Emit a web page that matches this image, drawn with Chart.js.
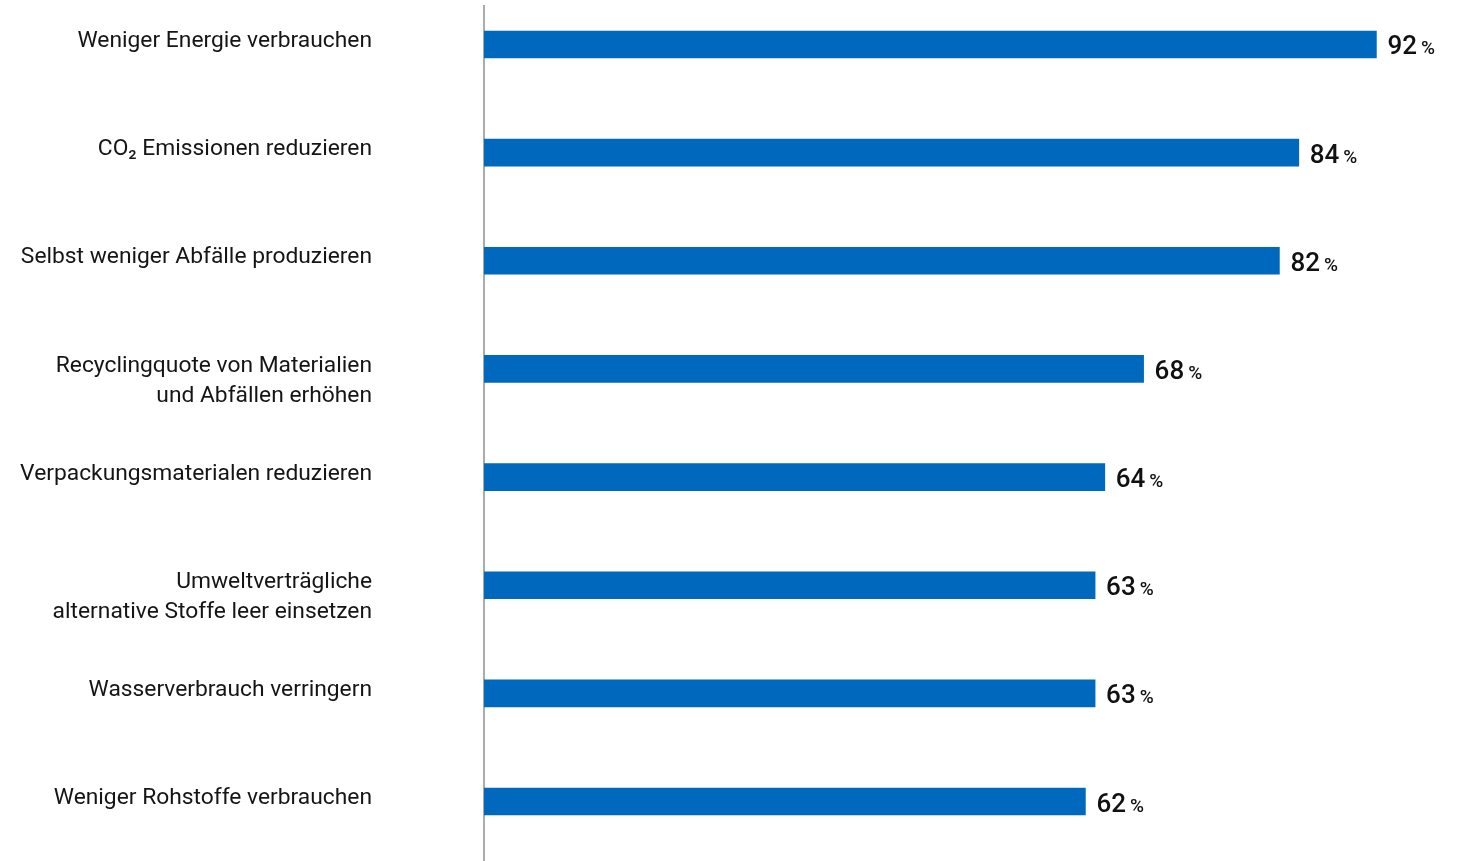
<!DOCTYPE html>
<html>
<head>
<meta charset="utf-8">
<script src="https://cdn.jsdelivr.net/npm/chart.js@4/dist/chart.umd.min.js"></script>
<style>
  html, body { margin: 0; padding: 0; background: #ffffff; }
  #wrap { width: 1459px; height: 861px; position: relative; }
</style>
</head>
<body>
<div id="wrap"><canvas id="c" width="1459" height="861"></canvas></div>
<script>
// ---- data ----
const categories = [
  ["Weniger Energie verbrauchen"],
  ["CO\u2082 Emissionen reduzieren"],
  ["Selbst weniger Abfälle produzieren"],
  ["Recyclingquote von Materialien", "und Abfällen erhöhen"],
  ["Verpackungsmaterialen reduzieren"],
  ["Umweltverträgliche", "alternative Stoffe leer einsetzen"],
  ["Wasserverbrauch verringern"],
  ["Weniger Rohstoffe verbrauchen"]
];
const values = [92, 84, 82, 68, 64, 63, 63, 62];
const valueSuffix = "%";

const points = values.map((v, i) => ({ x: v, y: i }));

const valueLabelPlugin = {
  id: 'valueLabels',
  afterDatasetsDraw(chart) {
    const ctx = chart.ctx;
    const meta = chart.getDatasetMeta(0);
    ctx.save();
    ctx.fillStyle = '#111111';
    ctx.textBaseline = 'alphabetic';
    ctx.textAlign = 'left';
    meta.data.forEach((bar, i) => {
      const x = bar.x + 11;
      const y = bar.y + 10;
      ctx.font = '500 26px Roboto';
      const txt = String(values[i]);
      ctx.fillText(txt, x, y);
      const w = ctx.measureText(txt).width;
      ctx.font = '500 19px Roboto';
      ctx.fillText(valueSuffix, x + w + 4, y);
    });
    ctx.restore();
  }
};

new Chart(document.getElementById('c'), {
  type: 'bar',
  data: {
    datasets: [{
      data: points,
      backgroundColor: '#0068BD',
      borderWidth: 0,
      barThickness: 27
    }]
  },
  options: {
    indexAxis: 'y',
    responsive: false,
    animation: false,
    layout: { padding: { top: 6, right: 5, bottom: 0, left: 0 } },
    plugins: { legend: { display: false }, tooltip: { enabled: false } },
    scales: {
      x: {
        type: 'linear',
        min: 0,
        max: 100,
        display: false
      },
      y: {
        type: 'linear',
        reverse: true,
        offset: false,
        min: -0.356,
        max: 7.55,
        afterBuildTicks: (scale) => {
          scale.ticks = categories.map((_, i) => ({ value: i }));
        },
        afterFit: (scale) => {
          scale.width = 484;
          scale.paddingTop = 0;
          scale.paddingBottom = 0;
        },
        grid: { display: false, drawTicks: false, offset: false },
        border: { display: true, color: '#ababab', width: 2 },
        ticks: {
          autoSkip: false,
          padding: 112,
          color: '#151515',
          font: { family: 'Roboto', size: 22.8, lineHeight: 1.32 },
          labelOffset: -3,
          callback: (v) => {
            const lines = categories[v];
            if (!lines) return '';
            return lines.length > 1 ? [''].concat(lines) : lines[0];
          }
        }
      }
    }
  },
  plugins: [valueLabelPlugin]
});
</script>
</body>
</html>
